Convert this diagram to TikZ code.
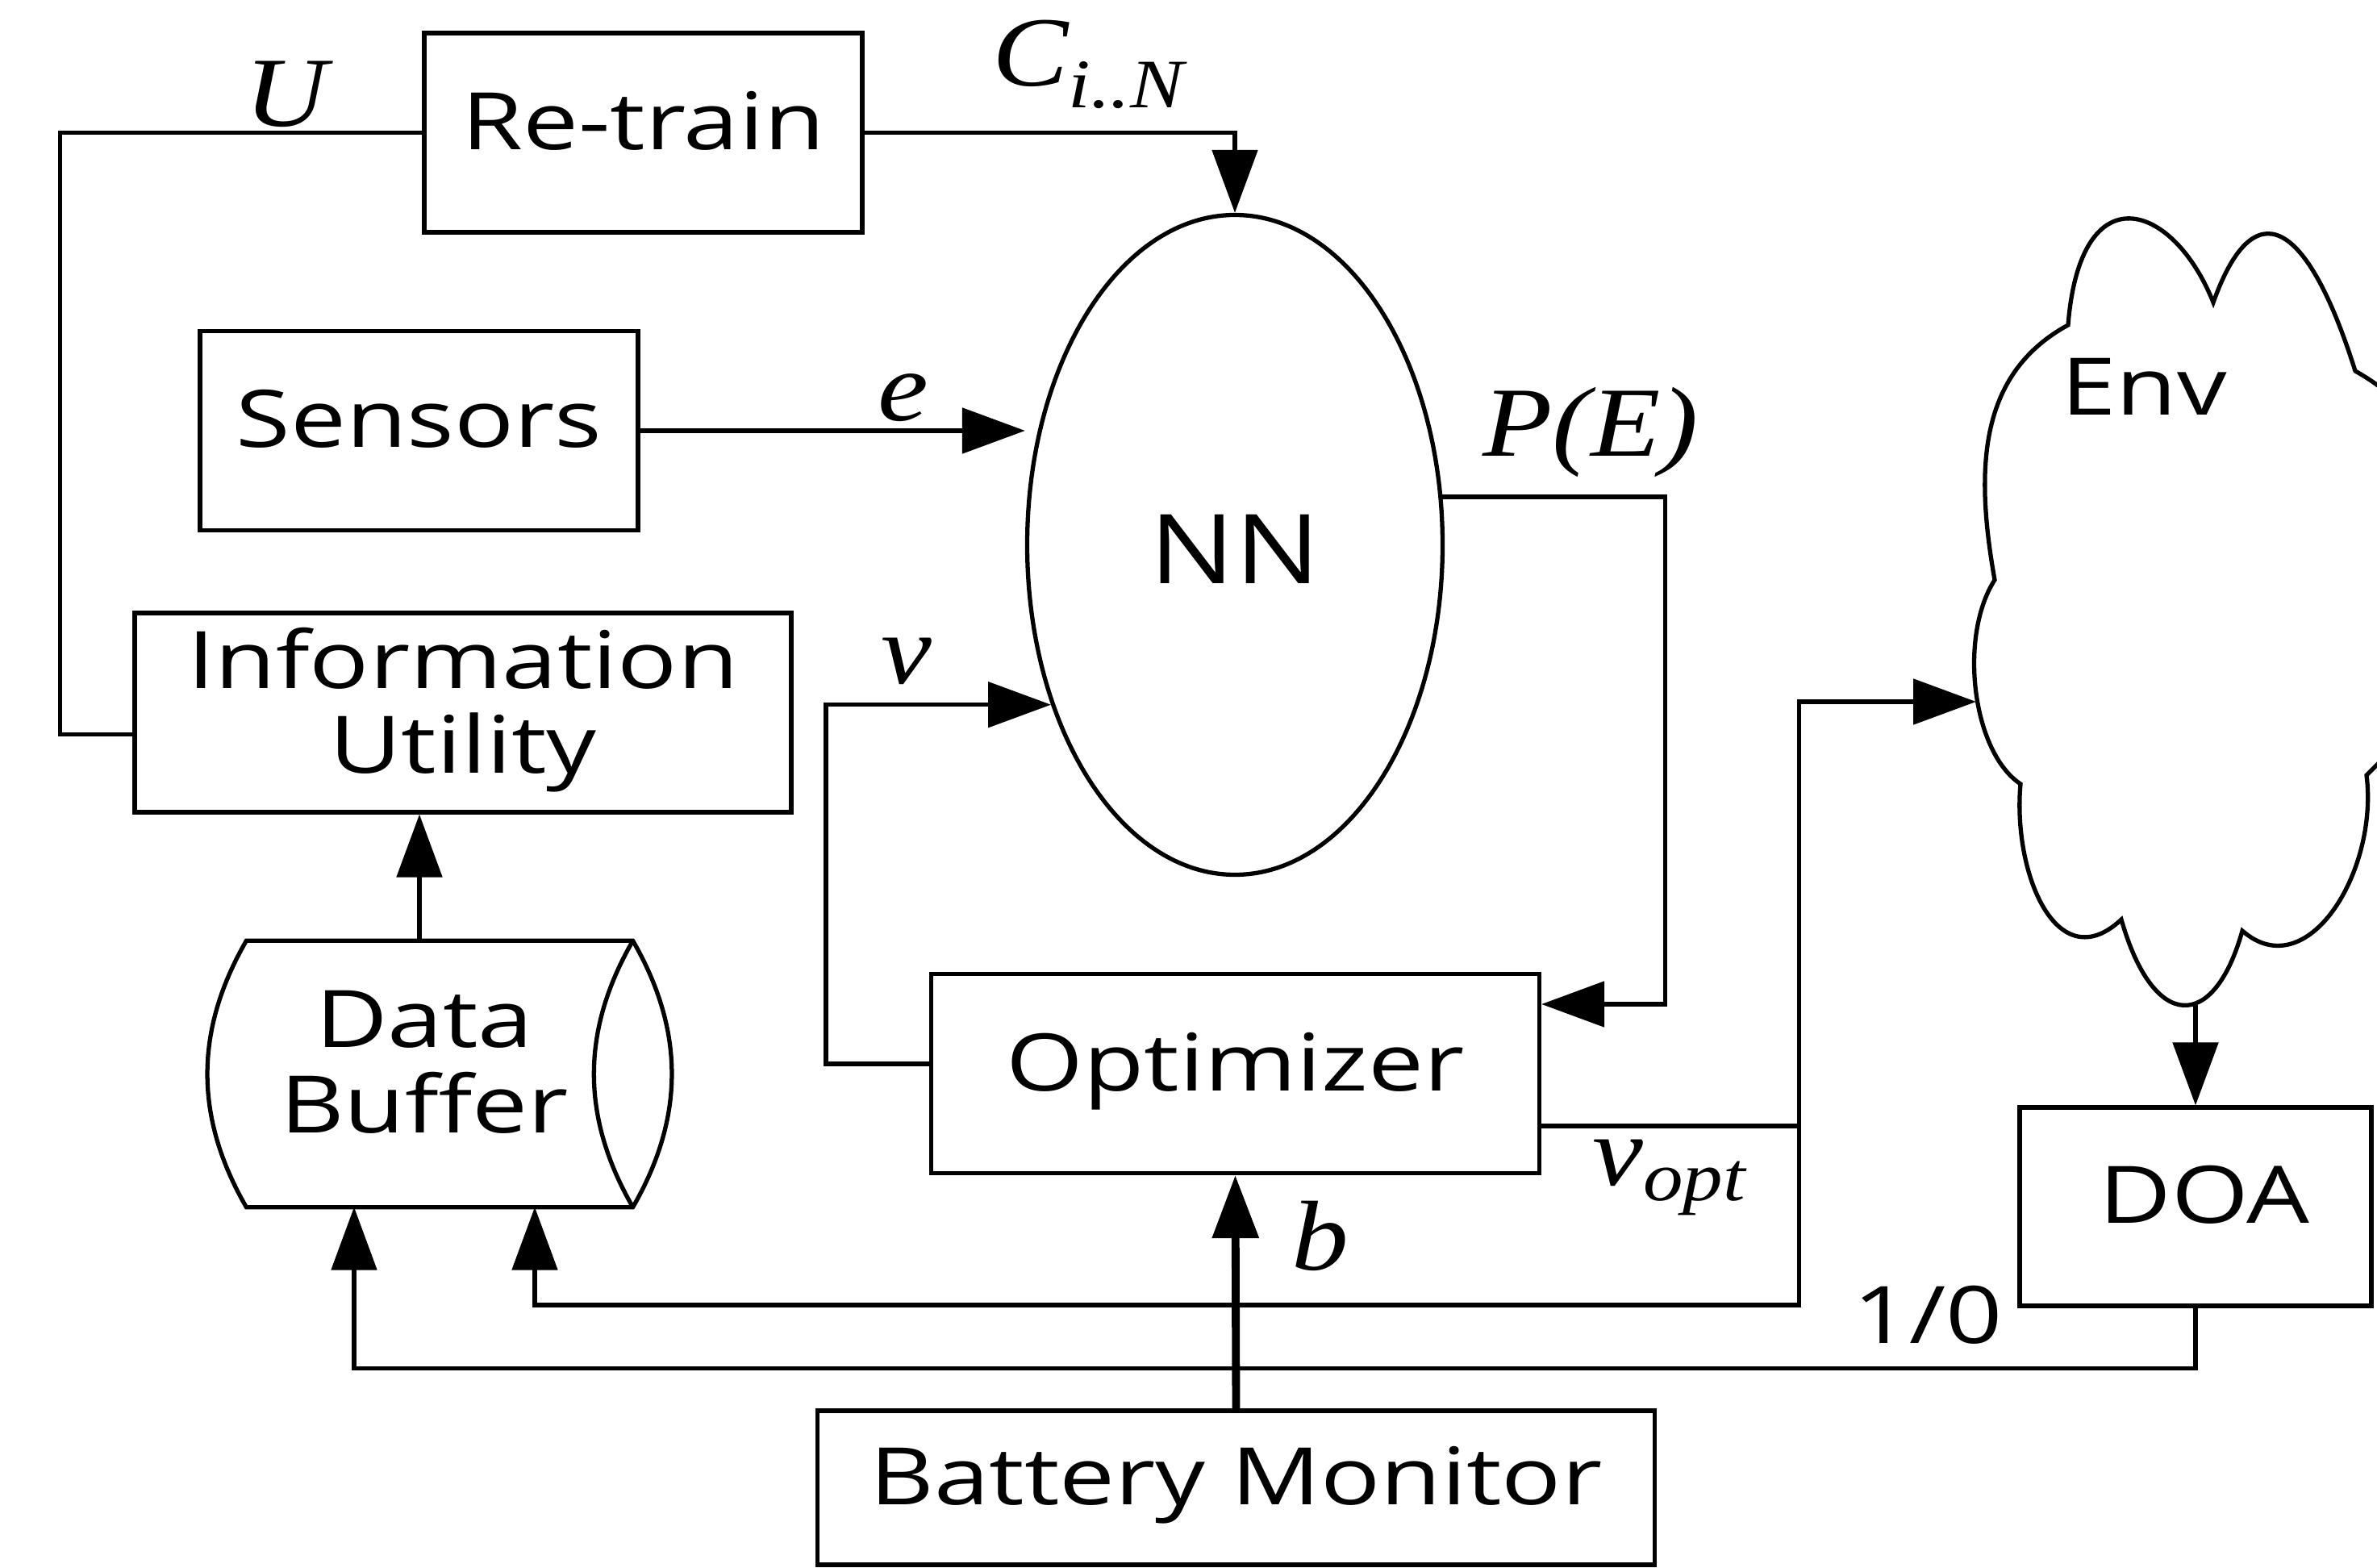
\documentclass[tikz,border=0pt]{standalone}
\usepackage{fontspec}
\setmainfont{Open Sans}
\newfontfamily\labfont{Liberation Serif}
\usetikzlibrary{shapes.geometric,arrows.meta}
\newcommand{\wtxt}[1]{\scalebox{1.25}[1]{\begin{tabular}{@{}c@{}}#1\end{tabular}}}
\newcommand{\ltxt}[1]{\scalebox{1.15}[1]{#1}}
\begin{document}
\begin{tikzpicture}[>={Triangle[length=0.78cm,width=0.56cm]}, line join=miter, line width=1.5pt,
	font=\fontsize{28}{28.5}\selectfont,
	box/.style={draw, rectangle, inner sep=0pt},
	lab/.style={font=\fontsize{35}{35}\selectfont\labfont\itshape, inner sep=0pt}]
	\useasboundingbox (0,0) rectangle (29.47,-19.44);
	% Blocks
	\node[box, minimum width=5.43cm, minimum height=2.47cm] (retrain) at (7.975,-1.645) {\wtxt{Re-train}};
	\node[box, minimum width=5.43cm, minimum height=2.47cm] (sensors) at (5.195,-5.34) {\wtxt{Sensors}};
	\node[box, minimum width=8.14cm, minimum height=2.47cm] (info) at (5.74,-8.835) {\wtxt{Information\\Utility}};
	\node[draw, ellipse, inner sep=0pt, minimum width=5.15cm, minimum height=8.18cm,
		label={[yshift=-0.05cm]center:\scalebox{1.17}[1]{\fontsize{34}{34}\selectfont NN}}] (nn) at (15.31,-6.755) {};
	\node[box, minimum width=7.54cm, minimum height=2.47cm] (opt) at (15.315,-13.31) {\wtxt{Optimizer}};
	\node[box, minimum width=10.38cm, minimum height=1.91cm] (bat) at (15.325,-18.445) {\wtxt{Battery Monitor}};
	\node[box, minimum width=4.36cm, minimum height=2.46cm] (doa) at (27.22,-14.96) {\hspace*{0.22cm}\wtxt{DOA}};
	% Environment cloud
	\draw (25.64,-4.03) .. controls +(0.15,1.9) and +(-0.5,1.25) .. (27.44,-3.75)
		.. controls +(0.5,1.4) and +(-0.6,1.9) .. (29.20,-4.60)
		.. controls +(0.9,-0.5) and +(0.9,0.8) .. (30.20,-7.20)
		.. controls +(0.9,-0.8) and +(0.8,0.8) .. (29.34,-9.61)
		.. controls +(0.15,-1.2) and +(0.8,-0.7) .. (27.80,-11.54)
		.. controls +(-0.35,-1.25) and +(0.4,-1.4) .. (26.30,-11.40)
		.. controls +(-0.8,-0.75) and +(-0.1,-1.1) .. (25.05,-9.72)
		.. controls +(-0.6,0.4) and +(-0.45,-0.7) .. (24.73,-7.19)
		.. controls +(-0.25,1.4) and +(-1.1,-0.6) .. cycle;
	\node (env) at (26.58,-4.94) {\wtxt{Env}};
	\coordinate (envin) at (24.50,-8.70);
	\coordinate (envout) at (27.22,-12.46);
	% Data buffer
	\node[minimum width=4.74cm, minimum height=3.25cm, inner sep=0pt] (buf) at (5.45,-13.315) {\hspace*{-0.38cm}\wtxt{Data\\Buffer}};
	\draw (buf.north west) -- (buf.north east) to[bend left=30] (buf.south east) -- (buf.south west) to[bend left=30] cycle;
	\draw (buf.north east) to[bend right=30] (buf.south east);
	% Connections
	\draw (retrain.west) -- ++(-4.49,0) |- ([yshift=-0.27cm]info.west);
	\draw[->] (retrain.east) -| (nn.north);
	\draw[->] (sensors.east) -- (sensors.east -| nn.west);
	\draw[->] ([xshift=-0.25cm]buf.north) -- ([xshift=-0.25cm]buf.north |- info.south);
	\draw[->] ([yshift=0.12cm]opt.west) -- ++(-1.28,0) |- (nn.221);
	\draw[->] (nn.13) -- ++(2.76,0) |- ([yshift=0.86cm]opt.east);
	\draw ([yshift=-0.65cm]opt.east) -- ++(3.19,0) coordinate (split);
	\draw[->] (split) |- (envin);
	\draw[->] (split) -- ++(0,-2.22) -| ([xshift=1.18cm]buf.south);
	\draw[->] (envout) -- (doa.north);
	\draw[->] (doa.south) -- ++(0,-0.75) -| ([xshift=-1.06cm]buf.south);
	\draw[->, line width=2.8pt] (bat.north) -- (opt.south);
	% Labels
	\node[lab] (lU) at (3.55,-1.17) {\ltxt{U}};
	\node[lab] (lC) at (13.5,-0.8) {\ltxt{C\textsubscript{i..N}}};
	\node[lab] (le) at (11.2,-4.93) {\ltxt{e}};
	\node[lab] (lv) at (11.24,-8.2) {\ltxt{v}};
	\node[lab] (lP) at (19.72,-5.36) {\ltxt{P(E)}};
	\node[lab] (lvopt) at (20.7,-14.6) {\ltxt{v\textsubscript{opt}}};
	\node[lab] (lb) at (16.37,-15.32) {\ltxt{b}};
	\node[inner sep=0pt] (lbit) at (23.9,-16.45) {\wtxt{1/0}};
\end{tikzpicture}
\end{document}
